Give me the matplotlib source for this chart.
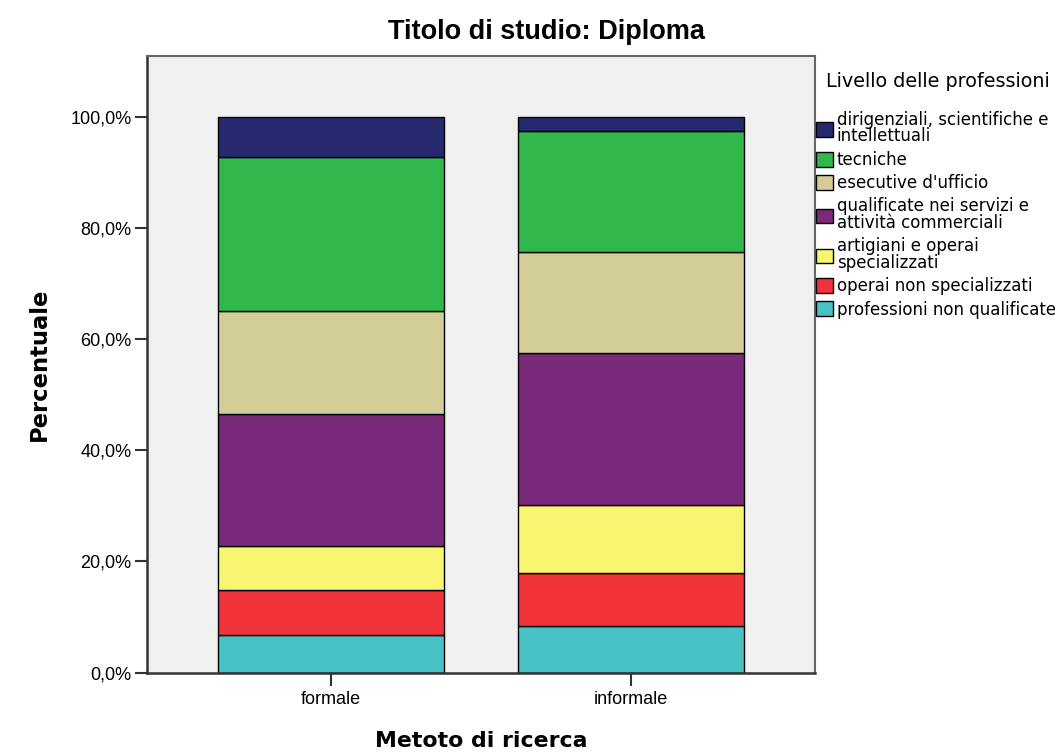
import numpy as np
import matplotlib.pyplot as plt
from matplotlib.ticker import FixedLocator

plt.rcParams['font.family'] = ['Liberation Sans', 'DejaVu Sans']

# Data (percent of each group, bottom to top)
groups = ["formale", "informale"]
categories = [
    "professioni non qualificate",
    "operai non specializzati",
    "artigiani e operai\nspecializzati",
    "qualificate nei servizi e\nattività commerciali",
    "esecutive d'ufficio",
    "tecniche",
    "dirigenziali, scientifiche e\nintellettuali",
]
formale = [6.7, 8.2, 7.8, 23.9, 18.5, 27.7, 7.2]
informale = [8.3, 9.7, 12.2, 27.4, 18.1, 21.8, 2.5]
colors = ["#48c1c7", "#ef3339", "#f8f571", "#7a2a7a", "#d3cd98", "#30b84a", "#27296f"]
yticks = [0, 20, 40, 60, 80, 100]
ytick_labels = ["0,0%", "20,0%", "40,0%", "60,0%", "80,0%", "100,0%"]

fig = plt.figure(figsize=(10.55, 7.56), dpi=100)
ax = fig.add_axes([147 / 1055, 1 - 672.5 / 756, (815 - 147) / 1055, (672.5 - 56) / 756])
ax.set_facecolor("#f0f0f0")

x = np.arange(len(groups))
vals = np.array([formale, informale])
bottom = np.zeros(len(groups))
handles = []
for i, cat in enumerate(categories):
    h = ax.bar(x, vals[:, i], width=0.753, bottom=bottom, color=colors[i],
               edgecolor="black", linewidth=1.0, label=cat)
    handles.append(h)
    bottom += vals[:, i]

ax.set_xlim(-0.613, 1.613)
ax.set_ylim(0, 111)
ax.yaxis.set_major_locator(FixedLocator(yticks))
ax.set_yticklabels(ytick_labels, fontsize=13)
ax.set_xticks(x)
ax.set_xticklabels(groups, fontsize=13)
ax.tick_params(axis="y", length=9, width=1.5, color="#333333", pad=2)
ax.tick_params(axis="x", length=9, width=1.5, color="#333333", pad=4)

for side in ["top", "right"]:
    ax.spines[side].set_color("#666666")
    ax.spines[side].set_linewidth(1.5)
for side in ["left", "bottom"]:
    ax.spines[side].set_color("#333333")
    ax.spines[side].set_linewidth(1.8)

ax.set_xlabel("Metoto di ricerca", fontsize=15.8, fontweight="bold", labelpad=17,
              family="DejaVu Sans")
ax.set_ylabel("Percentuale", fontsize=16.3, fontweight="bold", labelpad=14,
              family="DejaVu Sans")

fig.text(546 / 1055, 1 - 19 / 756, "Titolo di studio: Diploma", ha="center", va="top",
         fontsize=19.5, fontweight="bold")

# legend title and entries
fig.text(826 / 1055, 1 - 72 / 756, "Livello delle professioni", ha="left", va="top",
         fontsize=13.8, family="DejaVu Sans")
leg = ax.legend(handles[::-1], categories[::-1], loc="upper left",
                bbox_to_anchor=(1.0, 1 - (110 - 56) / (672.5 - 56)), frameon=False,
                prop={"family": "DejaVu Sans", "size": 12},
                handlelength=1.0, handleheight=1.0, handletextpad=0.25,
                labelspacing=0.32, borderpad=0, borderaxespad=0.05)
for t in leg.get_texts():
    t.set_linespacing(0.9)

fig.savefig("out.png", dpi=100)
